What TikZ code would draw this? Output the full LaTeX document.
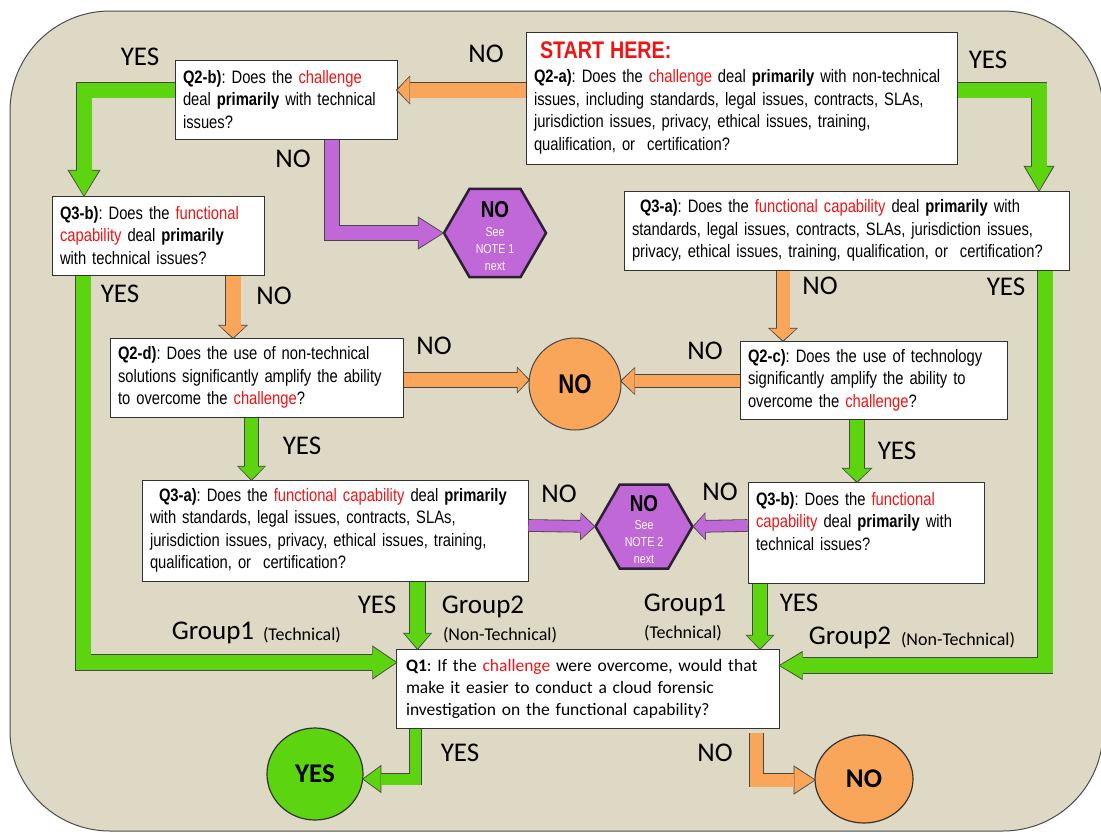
\documentclass[tikz,border=0pt]{standalone}
\usepackage{fontspec}
\usetikzlibrary{arrows.meta,shapes.geometric,calc}
\newfontfamily\narfont[FakeStretch=0.82]{Liberation Sans}
\newfontfamily\calfont{Carlito}
\frenchspacing
\definecolor{bgcol}{RGB}{221,217,196}
\definecolor{gcol}{RGB}{92,212,15}
\definecolor{ocol}{RGB}{249,166,90}
\definecolor{pcol}{RGB}{192,104,216}
\definecolor{hexedge}{RGB}{45,32,52}
\definecolor{edgecol}{RGB}{70,70,70}
\definecolor{hl}{RGB}{240,20,20}
\newcommand{\hr}[1]{\textcolor{hl}{#1}}
\tikzset{
  blk/.code args={#1/#2/#3/#4}{%
    \pgfmathsetmacro\blkw{#2+1.6}%
    \pgfmathsetmacro\blkhw{#3+3.2}%
    \pgfmathsetmacro\blkhl{#4+2.2}%
    \edef\blkopts{draw=#1, line width=#2pt, line join=miter, miter limit=10,
      -{Triangle[width=#3pt,length=#4pt,line width=0pt]},
      preaction={draw=edgecol, line width=\blkw pt, line join=miter, miter limit=10,
        -{Triangle[width=\blkhw pt,length=\blkhl pt,line width=0pt]}, shorten >=-1.5pt}}%
    \expandafter\tikzset\expandafter{\blkopts}%
  },
  qbox/.style={draw=black!80, fill=white, line width=1pt, align=left,
    inner xsep=8pt, inner ysep=0pt, font=\narfont\fontsize{18}{22.5}\selectfont\frenchspacing,
    execute at begin node={\hyphenpenalty=10000\exhyphenpenalty=10000}},
  lab/.style={font=\calfont\fontsize{27}{27}\selectfont, inner sep=0pt},
  sublab/.style={font=\calfont\fontsize{18}{18}\selectfont, inner sep=0pt},
  hexa/.style={regular polygon, regular polygon sides=6, minimum size=#1, inner sep=0pt,
    draw=hexedge, line width=2.5pt, fill=pcol},
  hextext/.style={align=center, inner sep=0pt, font=\narfont\fontsize{13}{17}\selectfont},
}
\begin{document}
\begin{tikzpicture}[x=1pt,y=-1pt]
\useasboundingbox (0,0) rectangle (1101,833);
\fill[white] (0,0) rectangle (1101,833);
\path[fill=bgcol, draw=black!70, line width=1pt, rounded corners=100pt] (10,11) rectangle (1103,831);

% boxes
\node[qbox, minimum width=431pt, minimum height=132pt, text width=415pt] (q2a) at (741.5,98)
 {\hspace*{6pt}{\fontsize{24}{24}\selectfont\bfseries\color{hl}START HERE:}\\[1.5pt]
  \textbf{Q2-a)}: Does the \hr{challenge} deal \textbf{primarily} with non-technical\\
  issues, including standards, legal issues, contracts, SLAs,\\
  jurisdiction issues, privacy, ethical issues, training,\\
  qualification, or\ \ certification?};
\node[qbox, minimum width=222pt, minimum height=79pt, text width=206pt] (q2b) at (286,99.5)
 {\textbf{Q2-b)}: Does the \hr{challenge}\\deal \textbf{primarily} with technical\\issues?};
\node[qbox, minimum width=212pt, minimum height=79pt, text width=196pt] (q3bL) at (158,235.5)
 {\textbf{Q3-b)}: Does the \hr{functional}\\\hr{capability} deal \textbf{primarily}\\with technical issues?};
\node[qbox, minimum width=445pt, minimum height=79pt, text width=429pt] (q3aR) at (846.5,230.5)
 {\hspace*{8pt}\textbf{Q3-a)}: Does the \hr{functional capability} deal \textbf{primarily} with\\
  standards, legal issues, contracts, SLAs, jurisdiction issues,\\
  privacy, ethical issues, training, qualification, or\ \ certification?};
\node[qbox, minimum width=293pt, minimum height=79pt, text width=277pt] (q2d) at (256.5,377.5)
 {\textbf{Q2-d)}: Does the use of non-technical\\solutions significantly amplify the ability\\to overcome the \hr{challenge}?};
\node[qbox, minimum width=267pt, minimum height=78pt, text width=251pt] (q2c) at (873.5,380)
 {\textbf{Q2-c)}: Does the use of technology\\significantly amplify the ability to\\overcome the \hr{challenge}?};
\node[qbox, minimum width=386pt, minimum height=101pt, text width=370pt] (q3aM) at (335,530.5)
 {\hspace*{9pt}\textbf{Q3-a)}: Does the \hr{functional capability} deal \textbf{primarily}\\
  with standards, legal issues, contracts, SLAs,\\
  jurisdiction issues, privacy, ethical issues, training,\\
  qualification, or\ \ certification?};
\node[qbox, minimum width=236pt, minimum height=101pt, text width=220pt] (q3bR) at (866,532.5)
 {\textbf{Q3-b)}: Does the \hr{functional}\\\hr{capability} deal \textbf{primarily} with\\technical issues?\\\mbox{}};
\node[qbox, minimum width=383pt, minimum height=79pt, text width=364pt, inner xsep=9.5pt,
      font=\calfont\fontsize{17.5}{22}\selectfont\frenchspacing] (q1) at (588,688.5)
 {\textbf{Q1}: If the \hr{challenge} were overcome, would that\\make it easier to conduct a cloud forensic\\investigation on the functional capability?};

% terminals
\node[hexa=102pt] (hex1) at (495,233) {};
\node[hextext] (hex1t) at (495,236)
 {{\fontsize{23}{23}\selectfont\bfseries NO}\\[1.5pt]\textcolor{white}{See}\\\textcolor{white}{NOTE 1}\\\textcolor{white}{next}};
\node[hexa=97pt] (hex2) at (644,526.5) {};
\node[hextext] (hex2t) at (644,529.5)
 {{\fontsize{23}{23}\selectfont\bfseries NO}\\[1.5pt]\textcolor{white}{See}\\\textcolor{white}{NOTE 2}\\\textcolor{white}{next}};
\node[circle, minimum size=92pt, inner sep=0pt, fill=ocol, draw=edgecol, line width=1pt,
      font=\narfont\fontsize{27}{27}\selectfont\bfseries] (nocirc) at (575,384) {NO};
\node[ellipse, minimum width=96pt, minimum height=92pt, inner sep=0pt, fill=gcol, draw=black!80, line width=1.2pt,
      font=\calfont\fontsize{27}{27}\selectfont\bfseries] (yesE) at (315,774) {YES};
\node[ellipse, minimum width=98pt, minimum height=88pt, inner sep=0pt, fill=ocol, draw=black!80, line width=1.2pt,
      font=\calfont\fontsize{27}{27}\selectfont\bfseries] (noE) at (864,779) {NO};

% connectors
\draw[blk=ocol/15/26/12] (q2a.west |- 0,90) -- (q2b.east |- 0,90);
\draw[blk=gcol/15/30/25] (q2b.west |- 0,90) -| (84,0 |- q3bL.north);
\draw[blk=pcol/14/30/24] (332,0 |- q2b.south) |- (hex1.west);
\draw[blk=gcol/15/28/24] (q2a.east |- 0,90) -| (1039,0 |- q3aR.north);
\draw[blk=ocol/13/27/12] (783,0 |- q3aR.south) -- (783,0 |- q2c.north);
\draw[blk=gcol/15/26/22] (1045,0 |- q3aR.south) |- (q1.east |- 0,665.5);
\draw[blk=ocol/15/27/12] (233,0 |- q3bL.south) -- (233,0 |- q2d.north);
\draw[blk=gcol/15/31/23] (83,0 |- q3bL.south) |- (q1.west |- 0,662.5);
\draw[blk=ocol/14/24/11] (q2d.east |- 0,380) -- (nocirc.west |- 0,380);
\draw[blk=ocol/12/25/13] (q2c.west |- 0,381) -- (nocirc.east |- 0,381);
\draw[blk=gcol/13/26/13] (251.5,0 |- q2d.south) -- (251.5,0 |- q3aM.north);
\draw[blk=gcol/14/28/13] (857,0 |- q2c.south) -- (857,0 |- q3bR.north);
\draw[blk=pcol/11/25/13] (q3aM.east |- 0,525.5) -- (hex2.west);
\draw[blk=pcol/11/25/11] (q3bR.west |- 0,525.5) -- (hex2.east);
\draw[blk=gcol/15/26/15] (417.5,0 |- q3aM.south) -- (417.5,0 |- q1.north);
\draw[blk=gcol/14/26/13] (760,0 |- q3bR.south) -- (760,0 |- q1.north);
\draw[blk=gcol/11/25/17] (415.5,0 |- q1.south) |- (yesE.east |- 0,779);
\draw[blk=ocol/13/26/20] ($(756.5,0 |- q1.south)+(0,4)$) |- (noE.west |- 0,780);

% labels
\node[lab] (l1) at (140,57) {YES};
\node[lab] (l2) at (486,54) {NO};
\node[lab] (l3) at (988,60) {YES};
\node[lab] (l4) at (293,159) {NO};
\node[lab] (l5) at (120,294) {YES};
\node[lab] (l6) at (274,296) {NO};
\node[lab] (l7) at (820,286) {NO};
\node[lab] (l8) at (1006,287) {YES};
\node[lab] (l9) at (434,346) {NO};
\node[lab] (l10) at (705,351) {NO};
\node[lab] (l11) at (302,446) {YES};
\node[lab] (l12) at (897,451) {YES};
\node[lab] (l13) at (559,494) {NO};
\node[lab] (l14) at (720,492) {NO};
\node[lab] (l15) at (377,605) {YES};
\node[lab] (l16) at (483,607) {Group2};
\node[sublab] (l17) at (500,635) {(Non-Technical)};
\node[lab] (l18) at (213,633) {Group1};
\node[sublab] (l19) at (302,635) {(Technical)};
\node[lab] (l20) at (685,605) {Group1};
\node[sublab] (l21) at (683,633) {(Technical)};
\node[lab] (l22) at (799,603) {YES};
\node[lab] (l23) at (850,638) {Group2};
\node[sublab] (l24) at (958,640) {(Non-Technical)};
\node[lab] (l25) at (460,753) {YES};
\node[lab] (l26) at (715,753) {NO};
\end{tikzpicture}
\end{document}
